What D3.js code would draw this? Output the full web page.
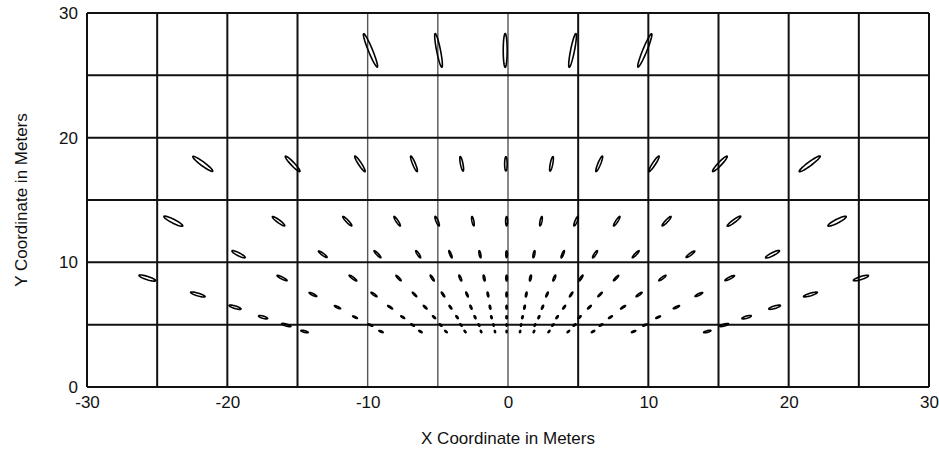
<!DOCTYPE html>
<html>
<head>
<meta charset="utf-8">
<script src="https://cdn.jsdelivr.net/npm/d3@7"></script>
<style>
  body { margin: 0; background: #fff; }
  svg text { font-family: "Liberation Sans", Arial, sans-serif; fill: #111; }
</style>
</head>
<body>
<div id="chart"></div>
<script>
// Axis ranges and tick labels
const xDomain = [-30, 30];
const yDomain = [0, 30];
const gridStep = 5;
const xTickLabels = [-30, -20, -10, 0, 10, 20, 30];
const yTickLabels = [0, 10, 20, 30];
const lightGridX = [-10, -5, 0];

// Error ellipses, one row per y level
// x: centre, ang: major axis angle from vertical (deg), maj/min: semi-axes (m)
const rowY = [27.0, 17.9, 13.3, 10.65, 8.74, 7.42, 6.4, 5.6, 4.97, 4.45];

const rowX = [
  [-9.8, -4.95, -0.2, 4.6, 9.75],
  [-21.75, -15.35, -10.55, -6.7, -3.3, -0.15, 3.1, 6.5, 10.4, 15.1, 21.5],
  [-23.85, -16.35, -11.45, -7.9, -5.05, -2.5, -0.1, 2.35, 4.85, 7.75, 11.3, 16.1, 23.45],
  [-19.2, -13.2, -9.3, -6.4, -4.1, -2.0, -0.1, 1.85, 3.9, 6.2, 9.1, 13.0, 18.85],
  [-25.7, -16.1, -11.05, -7.8, -5.4, -3.4, -1.7, -0.1, 1.6, 3.3, 5.2, 7.7, 11.0, 15.8, 25.15],
  [-22.1, -13.9, -9.55, -6.66, -4.63, -2.92, -1.43, -0.1, 1.3, 2.78, 4.5, 6.56, 9.34, 13.6, 21.55],
  [-19.45, -12.15, -8.4, -5.9, -4.1, -2.64, -1.28, -0.1, 1.18, 2.46, 4.0, 5.8, 8.2, 12.0, 19.0],
  [-17.45, -10.9, -7.5, -5.27, -3.63, -2.35, -1.18, -0.1, 1.03, 2.2, 3.5, 5.1, 7.3, 10.7, 17.0],
  [-15.8, -9.8, -6.8, -4.8, -3.35, -2.07, -1.03, -0.1, 0.93, 1.92, 3.2, 4.74, 6.63, 9.76, 15.4],
  [-14.5, -9.05, -6.24, -4.42, -3.06, -1.92, -0.93, -0.1, 0.86, 1.85, 2.92, 4.3, 6.06, 8.95, 14.2]
];

const rowAng = [
  [-20, -10, 0, 10, 20],
  [-50, -40, -30, -20, -10, 0, 10, 20, 30, 40, 50],
  [-60, -50, -40, -30, -20, -10, 0, 10, 20, 30, 40, 50, 60],
  [-60, -50, -40, -30, -20, -10, 0, 10, 20, 30, 40, 50, 60],
  [-70, -60, -50, -40, -30, -20, -10, 0, 10, 20, 30, 40, 50, 60, 70],
  [-71, -61, -51, -41, -31, -21, -10, 0, 10, 21, 31, 41, 51, 61, 71],
  [-71, -62, -52, -42, -32, -21, -10, 0, 10, 21, 32, 42, 52, 62, 71],
  [-72, -62, -53, -43, -33, -23, -12, 0, 12, 23, 33, 43, 53, 62, 72],
  [-72, -63, -54, -44, -34, -23, -12, 0, 12, 23, 34, 44, 54, 63, 72],
  [-73, -64, -55, -45, -35, -23, -12, 0, 12, 23, 35, 45, 55, 64, 73]
];

const rowMaj = [
  [1.42, 1.37, 1.35, 1.37, 1.42],
  [0.92, 0.8, 0.72, 0.66, 0.59, 0.57, 0.59, 0.66, 0.72, 0.8, 0.97],
  [0.77, 0.57, 0.49, 0.44, 0.41, 0.38, 0.37, 0.38, 0.41, 0.44, 0.49, 0.62, 0.75],
  [0.54, 0.4, 0.37, 0.33, 0.31, 0.29, 0.27, 0.29, 0.31, 0.33, 0.37, 0.4, 0.57],
  [0.63, 0.41, 0.35, 0.28, 0.27, 0.25, 0.24, 0.23, 0.24, 0.25, 0.27, 0.28, 0.33, 0.39, 0.57],
  [0.54, 0.31, 0.27, 0.23, 0.22, 0.21, 0.2, 0.19, 0.2, 0.21, 0.22, 0.23, 0.27, 0.31, 0.52],
  [0.45, 0.25, 0.22, 0.19, 0.17, 0.17, 0.16, 0.15, 0.16, 0.17, 0.17, 0.19, 0.22, 0.25, 0.44],
  [0.34, 0.19, 0.17, 0.15, 0.14, 0.13, 0.12, 0.12, 0.12, 0.13, 0.14, 0.15, 0.17, 0.19, 0.35],
  [0.35, 0.18, 0.15, 0.13, 0.12, 0.11, 0.1, 0.1, 0.1, 0.11, 0.12, 0.13, 0.15, 0.17, 0.33],
  [0.27, 0.17, 0.14, 0.12, 0.11, 0.1, 0.09, 0.09, 0.09, 0.1, 0.11, 0.12, 0.14, 0.17, 0.27]
];

const rowMin = [
  [0.15, 0.14, 0.14, 0.14, 0.15],
  [0.15, 0.13, 0.11, 0.1, 0.09, 0.09, 0.09, 0.1, 0.11, 0.13, 0.15],
  [0.15, 0.11, 0.09, 0.08, 0.08, 0.07, 0.07, 0.07, 0.08, 0.08, 0.09, 0.11, 0.15],
  [0.12, 0.08, 0.07, 0.07, 0.06, 0.06, 0.06, 0.06, 0.06, 0.07, 0.07, 0.08, 0.12],
  [0.13, 0.08, 0.07, 0.06, 0.06, 0.06, 0.06, 0.06, 0.06, 0.06, 0.06, 0.06, 0.07, 0.08, 0.12],
  [0.11, 0.07, 0.06, 0.05, 0.05, 0.05, 0.05, 0.05, 0.05, 0.05, 0.05, 0.05, 0.06, 0.07, 0.1],
  [0.1, 0.06, 0.05, 0.05, 0.05, 0.05, 0.05, 0.05, 0.05, 0.05, 0.05, 0.05, 0.05, 0.06, 0.1],
  [0.09, 0.05, 0.05, 0.05, 0.05, 0.05, 0.05, 0.05, 0.05, 0.05, 0.05, 0.05, 0.05, 0.05, 0.09],
  [0.08, 0.05, 0.05, 0.05, 0.04, 0.04, 0.04, 0.04, 0.04, 0.04, 0.04, 0.05, 0.05, 0.05, 0.08],
  [0.07, 0.05, 0.05, 0.04, 0.04, 0.04, 0.04, 0.04, 0.04, 0.04, 0.04, 0.04, 0.05, 0.05, 0.07]
];

// Layout
const W = 939, H = 449;
const margin = { top: 13, right: 10, bottom: 62, left: 87 };
const width = W - margin.left - margin.right;
const height = H - margin.top - margin.bottom;

const svg = d3.select('#chart').append('svg')
  .attr('width', W)
  .attr('height', H);

const g = svg.append('g')
  .attr('transform', `translate(${margin.left},${margin.top})`);

const x = d3.scaleLinear().domain(xDomain).range([0, width]);
const y = d3.scaleLinear().domain(yDomain).range([height, 0]);

// Grid lines every 5 m
const gridX = d3.range(xDomain[0], xDomain[1] + 1, gridStep);
const gridY = d3.range(yDomain[0], yDomain[1] + 1, gridStep);

g.append('g')
  .attr('class', 'grid-x')
  .selectAll('line')
  .data(gridX)
  .enter().append('line')
  .attr('x1', d => x(d)).attr('x2', d => x(d))
  .attr('y1', 0).attr('y2', height)
  .style('stroke', d => lightGridX.includes(d) ? '#555' : '#111')
  .style('stroke-width', d => lightGridX.includes(d) ? 1.4 : 2);

g.append('g')
  .attr('class', 'grid-y')
  .selectAll('line')
  .data(gridY)
  .enter().append('line')
  .attr('x1', 0).attr('x2', width)
  .attr('y1', d => y(d)).attr('y2', d => y(d))
  .style('stroke', '#111')
  .style('stroke-width', 2);

// Tick labels via axes (no tick marks, no domain line)
const xAxis = d3.axisBottom(x).tickValues(xTickLabels).tickSize(0).tickPadding(9).tickFormat(d => String(d));
const yAxis = d3.axisLeft(y).tickValues(yTickLabels).tickSize(0).tickPadding(9).tickFormat(d => String(d));

g.append('g')
  .attr('class', 'x-axis')
  .attr('transform', `translate(0,${height})`)
  .call(xAxis)
  .call(s => s.select('.domain').remove())
  .selectAll('text')
  .style('font-size', '17px')
  .style('font-family', '"Liberation Sans", Arial, sans-serif')
  .style('fill', '#111');

g.append('g')
  .attr('class', 'y-axis')
  .call(yAxis)
  .call(s => s.select('.domain').remove())
  .selectAll('text')
  .style('font-size', '17px')
  .style('font-family', '"Liberation Sans", Arial, sans-serif')
  .style('fill', '#111');

// Axis titles
g.append('text')
  .attr('x', width / 2)
  .attr('y', height + 57)
  .style('text-anchor', 'middle')
  .style('font-size', '17px')
  .text('X Coordinate in Meters');

g.append('text')
  .attr('transform', 'rotate(-90)')
  .attr('x', -height / 2)
  .attr('y', -60)
  .style('text-anchor', 'middle')
  .style('font-size', '17px')
  .text('Y Coordinate in Meters');

// Build ellipse records
const ellipses = [];
rowY.forEach((cy, r) => {
  rowX[r].forEach((cx, i) => {
    ellipses.push({ cx, cy, ang: rowAng[r][i], a: rowMaj[r][i], b: rowMin[r][i] });
  });
});

// Ellipse outline in data space, mapped through the scales
const steps = d3.range(0, 48);
const ellipseLine = d3.line()
  .x(p => x(p[0]))
  .y(p => y(p[1]))
  .curve(d3.curveLinearClosed);

function ellipsePoints(e) {
  const phi = e.ang * Math.PI / 180;
  const ux = Math.sin(phi), uy = Math.cos(phi);
  const vx = Math.cos(phi), vy = -Math.sin(phi);
  return steps.map(k => {
    const t = k / steps.length * 2 * Math.PI;
    const ca = e.a * Math.cos(t), sb = e.b * Math.sin(t);
    return [e.cx + ca * ux + sb * vx, e.cy + ca * uy + sb * vy];
  });
}

g.append('g')
  .attr('class', 'ellipses')
  .selectAll('path')
  .data(ellipses)
  .enter().append('path')
  .attr('d', d => ellipseLine(ellipsePoints(d)))
  .style('fill', 'none')
  .style('stroke', '#000')
  .style('stroke-width', 1.6);
</script>
</body>
</html>
